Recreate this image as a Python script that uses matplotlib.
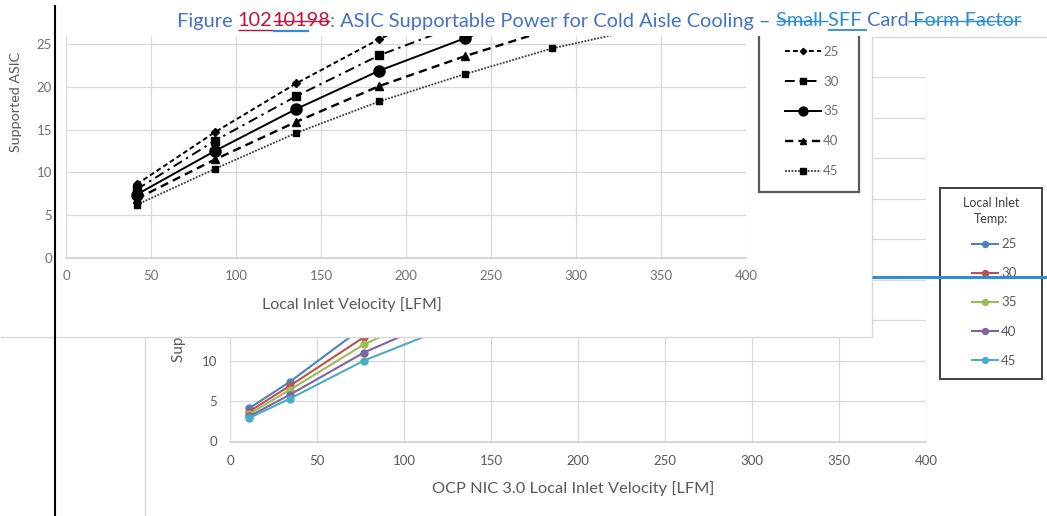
import matplotlib.pyplot as plt
from matplotlib.lines import Line2D
from matplotlib.patches import Rectangle

W, H = 1047, 516

temps = ["25", "30", "35", "40", "45"]

# upper chart (black & white), local inlet velocity [LFM] vs supported ASIC power
top_vel = [41.6, 87.6, 135.3, 184.3, 234.7, 285.9, 336.0]
top_25 = [8.6, 14.7, 20.4, 25.6, 30.1, 34.3, 38.2]
top_30 = [8.0, 13.7, 18.9, 23.7, 27.5, 31.2, 34.6]
top_35 = [7.4, 12.5, 17.4, 21.9, 25.7, 29.3, 32.6]
top_40 = [6.9, 11.5, 15.9, 20.1, 23.6, 26.8, 29.8]
top_45 = [6.2, 10.4, 14.6, 18.3, 21.5, 24.5, 26.7]

# lower chart (colour), OCP NIC 3.0 local inlet velocity
ocp_vel = [11.0, 34.5, 77.0, 125.0]
ocp_25 = [4.1, 7.4, 14.2, 19.9]
ocp_30 = [3.7, 6.9, 12.9, 18.2]
ocp_35 = [3.4, 6.4, 12.0, 16.8]
ocp_40 = [3.1, 5.8, 11.0, 15.5]
ocp_45 = [2.9, 5.3, 10.0, 14.1]

title_parts = ["Figure ", "102", "10198", ": ASIC Supportable Power for Cold Aisle Cooling \u2013 ",
               "Small ", "SFF ", "Card", " Form Factor"]

plt.rcParams["font.family"] = ["Lato", "DejaVu Sans"]

fig = plt.figure(figsize=(W / 100, H / 100), dpi=100)


def fx(x):
    return x / W


def fy(y):
    return 1 - y / H


def rect(x0, y0, x1, y1):
    return [fx(x0), fy(y1), (x1 - x0) / W, (y1 - y0) / H]


def seg(x0, y0, x1, y1, color, lw, z):
    fig.add_artist(Line2D([fx(x0), fx(x1)], [fy(y0), fy(y1)], transform=fig.transFigure,
                          color=color, lw=lw, zorder=z, solid_capstyle="butt"))


def style_axes(ax, ymax, ystep, size, pad_x, pad_y, color):
    ax.set_xlim(0, 400)
    ax.set_ylim(0, ymax)
    ax.set_xticks(range(0, 401, 50))
    ax.set_yticks(range(0, int(ymax) + 1, ystep))
    ax.grid(color="#D9D9D9", lw=0.9)
    ax.set_axisbelow(True)
    for s in ["top", "right", "left"]:
        ax.spines[s].set_visible(False)
    ax.spines["bottom"].set_color("#D0D0D0")
    ax.spines["bottom"].set_linewidth(1.2)
    ax.tick_params(length=0, labelsize=size, colors=color)
    ax.tick_params(axis="x", pad=pad_x)
    ax.tick_params(axis="y", pad=pad_y)


# ---- lower colour chart (drawn first, mostly hidden) ----
ax2 = fig.add_axes(rect(230, 77.5, 926, 441.5), zorder=1)
style_axes(ax2, 45, 5, 9.5, 10, 9, "#595959")
ocp_colors = ["#4F81BD", "#C0504D", "#9BBB59", "#8064A2", "#4BACC6"]
for vals, c, t in zip([ocp_25, ocp_30, ocp_35, ocp_40, ocp_45], ocp_colors, temps):
    ax2.plot(ocp_vel, vals, color=c, lw=1.5, marker="o", ms=5, label=t)

ax2.legend(loc="center left", bbox_to_anchor=(fx(972), fy(302.5)), bbox_transform=fig.transFigure,
           frameon=False, borderpad=0, borderaxespad=0, handlelength=2.0, handletextpad=0.2,
           labelspacing=1.3, fontsize=9.5, labelcolor="#595959", markerscale=0.85)
fig.text(fx(991), fy(211), "Local Inlet\nTemp:", ha="center", va="center", fontsize=9,
         color="#404040", linespacing=1.45, zorder=1.5)
fig.add_artist(Rectangle((fx(940), fy(379)), (1042 - 940) / W, (379 - 188) / H, transform=fig.transFigure,
                         fill=False, edgecolor="#404040", lw=1.4, zorder=1.5))

fig.text(fx(573), fy(489), "OCP NIC 3.0 Local Inlet Velocity [LFM]", ha="center", va="center",
         fontsize=11.8, color="#595959", zorder=1.5)
fig.text(fx(179), fy(362), "Supported ASIC Power [W]", rotation=90, rotation_mode="anchor",
         ha="left", va="center", fontsize=11, color="#595959", zorder=1.5)
seg(145, 337, 145, 516, "#D9D9D9", 1.0, 1.5)
seg(872, 37, 1047, 37, "#D9D9D9", 1.0, 1.5)

# ---- white chart area of the pasted upper chart ----
fig.add_artist(Rectangle((0, fy(337)), fx(872), (337 - 36) / H, transform=fig.transFigure,
                         facecolor="white", edgecolor="none", zorder=2))

ax1 = fig.add_axes(rect(66, 36, 746, 257.7), zorder=3)
style_axes(ax1, 25.96, 5, 9.5, 9, 10, "#707070")
top_styles = [
    dict(ls=(0, (2.5, 1.6)), marker="D", ms=4, lw=1.4, color="black"),
    dict(ls=(0, (5, 2.5, 1.2, 2.5)), marker="s", ms=5.5, lw=1.4, color="black"),
    dict(ls="-", marker="o", ms=8, lw=1.4, color="black"),
    dict(ls=(0, (3.5, 2.2)), marker="^", ms=5.5, lw=1.7, color="black"),
    dict(ls=(0, (1, 0.8)), marker="s", ms=5, lw=1.3, color="#3A3A3A", mfc="black", mec="black"),
]
for vals, st, t in zip([top_25, top_30, top_35, top_40, top_45], top_styles, temps):
    ax1.plot(top_vel, vals, label=t, **st)

ax1.legend(loc="center left", bbox_to_anchor=(fx(785), fy(111.5)), bbox_transform=fig.transFigure,
           frameon=False, borderpad=0, borderaxespad=0, handlelength=2.7, handletextpad=0.2,
           labelspacing=1.36, fontsize=9.5, labelcolor="#707070", markerscale=0.8)
fig.add_artist(Rectangle((fx(759), fy(192)), (859 - 759) / W, (192 - 20) / H, transform=fig.transFigure,
                         fill=False, edgecolor="#595959", lw=1.6, zorder=3.5))

fig.text(fx(352), fy(305), "Local Inlet Velocity [LFM]", ha="center", va="center",
         fontsize=11.5, color="#595959", zorder=3.6)
fig.text(fx(16), fy(152), "Supported ASIC", rotation=90, rotation_mode="anchor",
         ha="left", va="center", fontsize=10.3, color="#595959", zorder=3.6)
seg(0, 337, 872, 337, "#D9D9D9", 1.0, 3.6)
seg(872, 36, 872, 337, "#D9D9D9", 1.0, 3.6)

# ---- document layer: title band, caption, revision bars ----
fig.add_artist(Rectangle((0, fy(36)), 1, 36 / H, transform=fig.transFigure,
                         facecolor="white", edgecolor="none", zorder=5))

main_c, red_c, trk_c = "#4472C4", "#C0143C", "#2F8CD5"
part_colors = [main_c, red_c, red_c, main_c, trk_c, trk_c, main_c, trk_c]
renderer = fig.canvas.get_renderer()
probe = fig.text(0, 0, "", fontsize=14)


def adv(s, size):
    probe.set_fontsize(size)
    probe.set_text("|" + s + "|")
    a = probe.get_window_extent(renderer).width
    probe.set_text("||")
    return a - probe.get_window_extent(renderer).width


full = "".join(title_parts)
tsize = 14 * (1023 - 177) / adv(full, 14)
starts = []
for i in range(len(title_parts)):
    starts.append(177 + adv("".join(title_parts[:i]), tsize))
starts.append(177 + adv(full, tsize))
probe.remove()

for i, (txt, c) in enumerate(zip(title_parts, part_colors)):
    fig.text(fx(starts[i]), fy(26.5), txt, ha="left", va="baseline", fontsize=tsize, color=c, zorder=6)

seg(starts[1], 30, starts[2], 30, red_c, 1.0, 6)           # 102 underlined
seg(starts[2], 20.7, starts[3], 20.7, red_c, 1.0, 6)       # 10198 struck
seg(starts[2], 30.5, starts[2] + 0.63 * (starts[3] - starts[2]), 30.5, trk_c, 1.6, 6)
seg(starts[4], 20.7, starts[5], 20.7, trk_c, 1.0, 6)       # Small struck
seg(starts[5], 29.5, starts[6], 29.5, trk_c, 1.3, 6)       # SFF underlined
seg(starts[7], 20.7, starts[8], 20.7, trk_c, 1.0, 6)       # Form Factor struck

seg(55, 5, 55, 516, "black", 1.5, 7)
seg(872, 277, 1047, 277, "#2F8CD5", 2.2, 7)

fig.savefig("out.png", dpi=100)
